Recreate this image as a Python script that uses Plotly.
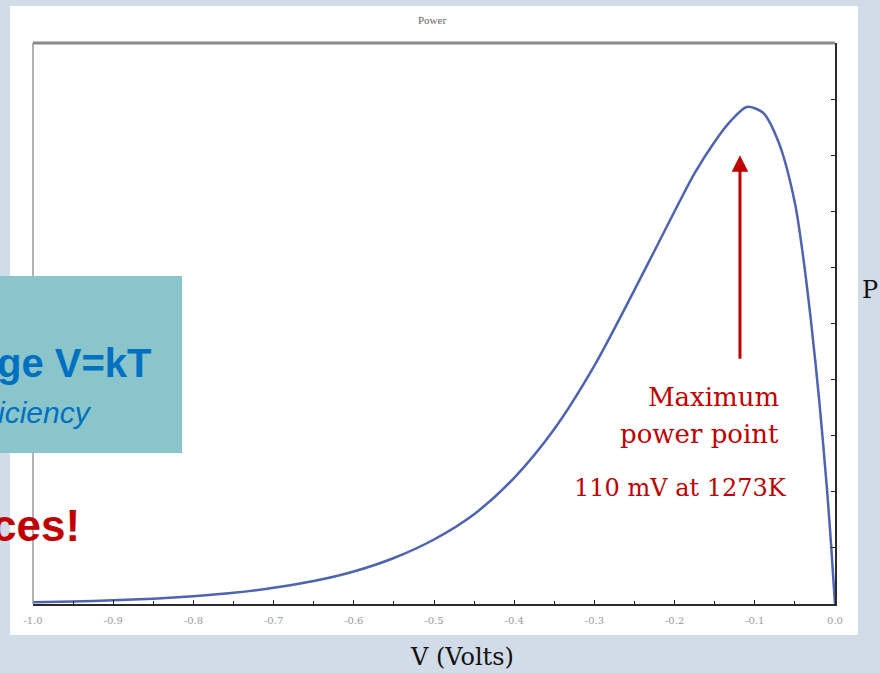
import plotly.graph_objects as go

# ---- data (power vs voltage, P in fraction of axis height) ----
V = [-1.00, -0.95, -0.90, -0.85, -0.80, -0.75, -0.70, -0.65, -0.60, -0.55,
     -0.50, -0.45, -0.40, -0.35, -0.30, -0.25, -0.20, -0.175, -0.15, -0.13,
     -0.11, -0.09, -0.07, -0.05, -0.04, -0.03, -0.02, -0.01, -0.005, 0.0]
P = [0.003, 0.0045, 0.0065, 0.0095, 0.014, 0.020, 0.029, 0.041, 0.058, 0.082,
     0.115, 0.160, 0.225, 0.312, 0.425, 0.560, 0.700, 0.768, 0.824, 0.861,
     0.886, 0.876, 0.822, 0.715, 0.622, 0.505, 0.368, 0.205, 0.108, 0.0]
x_tickvals = [-1.0, -0.9, -0.8, -0.7, -0.6, -0.5, -0.4, -0.3, -0.2, -0.1, 0.0]
x_ticktext = ["-1.0", "-0.9", "-0.8", "-0.7", "-0.6", "-0.5", "-0.4", "-0.3", "-0.2", "-0.1", "0.0"]
peak_label = ["Maximum", "power point", "110 mV at 1273K"]

W, H = 880, 673
L, R, T, B = 33, 835, 43, 604


def px(x):
    return (x - L) / (R - L)


def py(y):
    return (B - y) / (B - T)


fig = go.Figure()
fig.add_trace(go.Scatter(x=V, y=P, mode="lines",
                         line=dict(color="#4d63b3", width=2.5, shape="spline", smoothing=0.8),
                         hoverinfo="skip", showlegend=False))

shapes = [
    # white chart panel
    dict(type="rect", xref="paper", yref="paper", x0=px(10), x1=px(858), y0=py(635), y1=py(6),
         fillcolor="white", line=dict(width=0), layer="below"),
    # left axis line (gray)
    dict(type="line", xref="paper", yref="paper", x0=0, x1=0, y0=0, y1=1,
         line=dict(color="#9a9a9a", width=1.5)),
    # top border (gray, thick)
    dict(type="line", xref="paper", yref="paper", x0=0, x1=1, y0=1, y1=1,
         line=dict(color="#8a8a8a", width=3)),
    # teal slide box overlay
    dict(type="rect", xref="paper", yref="paper", x0=px(-5), x1=px(182), y0=py(453), y1=py(276),
         fillcolor="#8ac5cc", line=dict(width=0), layer="above"),
]

red = "#c00000"
annotations = [
    dict(text="Power", xref="paper", yref="paper", x=px(432), y=py(20), xanchor="center", yanchor="middle",
         showarrow=False, font=dict(family="Liberation Serif", size=11, color="#666666")),
    dict(text="V (Volts)", xref="paper", yref="paper", x=px(462), y=py(657), xanchor="center", yanchor="middle",
         showarrow=False, font=dict(family="DejaVu Serif", size=24, color="#111111")),
    dict(text="P", xref="paper", yref="paper", x=px(860), y=py(290), xanchor="left", yanchor="middle",
         showarrow=False, font=dict(family="DejaVu Serif", size=24, color="#111111")),
    dict(text=peak_label[0], xref="paper", yref="paper", x=px(781), y=py(397), xanchor="right", yanchor="middle",
         showarrow=False, font=dict(family="DejaVu Serif", size=26, color=red)),
    dict(text=peak_label[1], xref="paper", yref="paper", x=px(781), y=py(434), xanchor="right", yanchor="middle",
         showarrow=False, font=dict(family="DejaVu Serif", size=26, color=red)),
    dict(text=peak_label[2], xref="paper", yref="paper", x=px(789), y=py(488), xanchor="right", yanchor="middle",
         showarrow=False, font=dict(family="DejaVu Serif", size=24, color=red)),
    # arrow to maximum power point
    dict(text="", x=-0.1185, y=0.80, xref="x", yref="y", ax=0, ay=205, axref="pixel", ayref="pixel",
         showarrow=True, arrowhead=2, arrowsize=1.1, arrowwidth=3, arrowcolor=red),
    # slide text overlays
    dict(text="<b>ge V=kT</b>", xref="paper", yref="paper", x=px(154), y=py(363), xanchor="right", yanchor="middle",
         showarrow=False, font=dict(family="Liberation Sans", size=40, color="#0070c0")),
    dict(text="<i>iciency</i>", xref="paper", yref="paper", x=px(94), y=py(412), xanchor="right", yanchor="middle",
         showarrow=False, font=dict(family="Liberation Sans", size=30, color="#0070c0")),
    dict(text="<b>ces!</b>", xref="paper", yref="paper", x=px(82), y=py(525), xanchor="right", yanchor="middle",
         showarrow=False, font=dict(family="Liberation Sans", size=44, color=red)),
]

fig.update_layout(
    width=W, height=H,
    margin=dict(l=L, r=W - R, t=T, b=H - B),
    paper_bgcolor="#d2dbe8",
    plot_bgcolor="white",
    shapes=shapes,
    annotations=annotations,
    showlegend=False,
    xaxis=dict(range=[-1.0, 0.0], tickvals=x_tickvals, ticktext=x_ticktext, ticks="inside", ticklen=4,
               tickcolor="#222222", showgrid=False, zeroline=False, showline=True, linecolor="#2a2a2a",
               linewidth=2, ticklabelstandoff=6,
               tickfont=dict(family="DejaVu Serif", size=10, color="#9a9a9a"),
               minor=dict(dtick=0.05, ticks="inside", ticklen=3, tickcolor="#222222", showgrid=False)),
    yaxis=dict(range=[0, 1.0], side="right", dtick=0.1, ticks="inside", ticklen=4, tickcolor="#222222",
               showticklabels=False, showgrid=False, zeroline=False, showline=True,
               linecolor="#2a2a2a", linewidth=2),
)

fig.write_html("out.html")
